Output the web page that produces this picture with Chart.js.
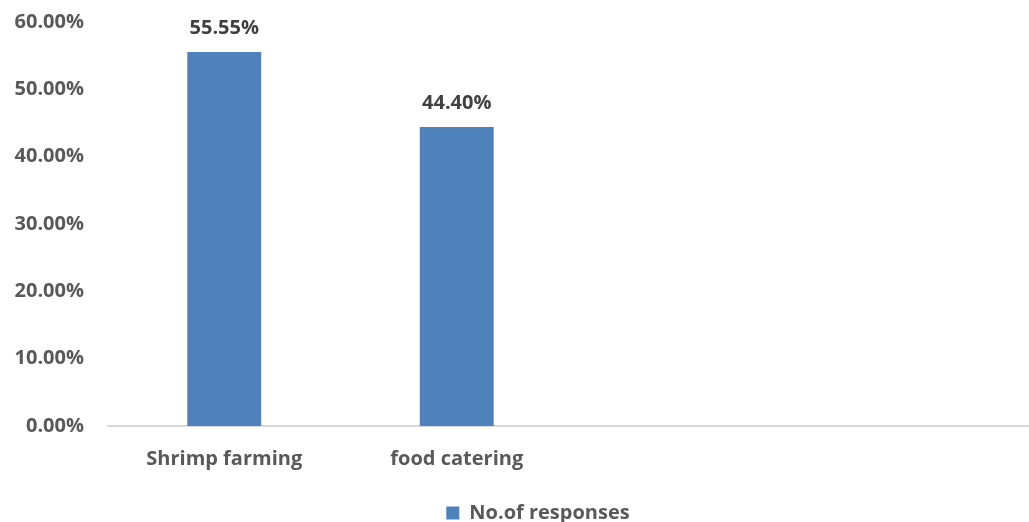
<!DOCTYPE html>
<html>
<head>
<meta charset="utf-8">
<script src="https://cdn.jsdelivr.net/npm/chart.js@4"></script>
<style>
  html, body { margin: 0; padding: 0; background: #fff; overflow: hidden; }
  #wrap { width: 1072px; height: 522px; }
</style>
</head>
<body>
<div id="wrap"><canvas id="chart" width="1072" height="522"></canvas></div>
<script>
const categories = ['Shrimp farming', 'food catering', '', ''];
const responses = [55.55, 44.40, null, null];
const seriesName = 'No.of responses';
const yTicks = [0, 10, 20, 30, 40, 50, 60];

const pct = v => v.toFixed(2) + '%';
const labelFont = { family: 'Open Sans', size: 20, weight: 'bold' };

// value labels above each bar
const barLabels = {
  id: 'barLabels',
  afterDatasetsDraw(chart) {
    const ctx = chart.ctx;
    const meta = chart.getDatasetMeta(0);
    ctx.save();
    ctx.font = 'bold 20px "Open Sans"';
    ctx.fillStyle = '#404040';
    ctx.textAlign = 'center';
    ctx.textBaseline = 'middle';
    meta.data.forEach((bar, i) => {
      if (responses[i] == null) return;
      ctx.fillText(pct(responses[i]), bar.x, bar.y - 24);
    });
    ctx.restore();
  }
};

// nudge the legend right so it sits under the middle of the plot
const legendShift = {
  id: 'legendShift',
  afterLayout(chart) {
    chart.legend.left += 19;
    chart.legend.right += 19;
  }
};

new Chart(document.getElementById('chart'), {
  type: 'bar',
  data: {
    labels: categories,
    datasets: [{
      label: seriesName,
      data: responses,
      backgroundColor: '#4F81BD',
      categoryPercentage: 1,
      barPercentage: 0.318
    }]
  },
  options: {
    responsive: false,
    animation: false,
    layout: { padding: { left: 0, top: 22, right: 34, bottom: -11 } },
    plugins: {
      legend: {
        position: 'bottom',
        labels: {
          boxWidth: 13, boxHeight: 13, padding: 11,
          color: '#595959',
          font: labelFont
        }
      },
      tooltip: { enabled: false }
    },
    scales: {
      x: {
        afterFit(scale) { scale.height += 8; },
        grid: { display: false },
        border: { display: true, color: '#D9D9D9', width: 2 },
        ticks: { color: '#595959', padding: 13, font: labelFont }
      },
      y: {
        min: 0, max: 60,
        afterBuildTicks(scale) { scale.ticks = yTicks.map(v => ({ value: v })); },
        afterFit(scale) {
          scale.width = 108;
          scale.paddingTop = 0;
        },
        grid: { display: false },
        border: { display: false },
        ticks: {
          color: '#595959', padding: 16, font: labelFont,
          callback: v => pct(v)
        }
      }
    }
  },
  plugins: [barLabels, legendShift]
});
</script>
</body>
</html>
